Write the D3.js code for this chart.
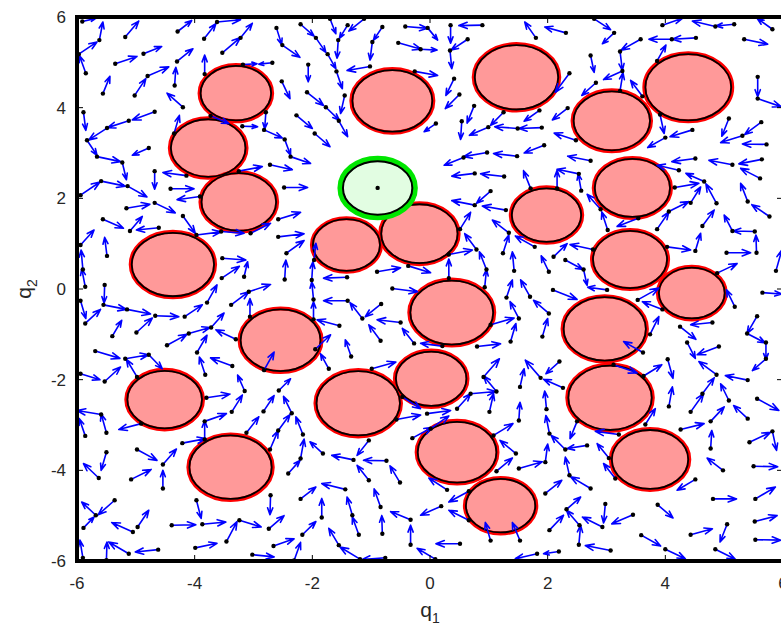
<!DOCTYPE html>
<html>
<head>
<meta charset="utf-8">
<script src="https://cdn.jsdelivr.net/npm/d3@7"></script>
<style>
  html, body { margin: 0; padding: 0; background: #ffffff; }
  svg { display: block; }
  text { font-family: "Liberation Sans", Arial, Helvetica, sans-serif; fill: #262626; }
</style>
</head>
<body>
<svg id="chart" width="781" height="632"></svg>
<script>
// Configuration space: circular obstacles, the goal region and a sampled vector field.
const xTicks = [-6, -4, -2, 0, 2, 4, 6];
const yTicks = [-6, -4, -2, 0, 2, 4, 6];

// Obstacle centres (q1, q2) and radii.
const obstacleQ1 = [-3.30, -0.64, 1.47, 4.39, -3.77, 3.09, -3.25, 3.44, 1.98, -0.18, -1.42, -4.37, 3.40,
                    4.45, 0.37, 2.97, -2.54, 0.02, -4.51, -1.22, 3.06, -3.39, 0.46, 3.74, 1.20];
const obstacleQ2 = [4.32, 4.15, 4.67, 4.45, 3.11, 3.71, 1.92, 2.23, 1.63, 1.22, 0.97, 0.54, 0.65,
                    -0.09, -0.52, -0.88, -1.13, -1.98, -2.44, -2.52, -2.40, -3.93, -3.60, -3.76, -4.78];
const obstacleR  = [0.60, 0.68, 0.71, 0.73, 0.635, 0.65, 0.635, 0.64, 0.59, 0.65, 0.57, 0.70, 0.63,
                    0.56, 0.705, 0.70, 0.68, 0.60, 0.635, 0.71, 0.71, 0.70, 0.67, 0.65, 0.59];

// Goal region.
const goalQ1 = -0.89;
const goalQ2 = 2.23;
const goalR = 0.59;

// Field samples: [q1, q2, dq1, dq2].
const samples = [
  [-5.91,5.90,0.23,0.07],[-5.62,5.49,0.06,0.40],[-5.18,5.56,0.23,0.35],[-5.97,5.18,0.31,0.27],
  [-5.85,4.76,-0.11,0.39],[-5.35,4.97,0.37,0.16],[-4.87,5.19,0.31,0.16],[-4.30,5.02,0.27,0.28],
  [-3.84,5.52,0.20,0.33],[-3.53,5.21,0.31,0.34],[-3.22,5.54,0.20,0.32],[-4.29,5.68,0.24,0.24],
  [-3.83,4.74,0.00,0.42],[-4.34,4.49,0.02,0.40],[-4.80,4.70,0.36,0.20],[-5.02,4.27,0.19,0.37],
  [-5.56,4.31,0.12,0.38],[-4.20,4.01,-0.27,0.31],[-4.68,3.91,-0.38,-0.18],[-5.12,3.71,-0.36,-0.15],
  [-5.49,3.55,-0.31,-0.26],[-5.89,3.90,0.04,-0.40],[-5.83,3.28,0.17,-0.33],[-4.35,3.43,0.09,0.40],
  [-3.73,3.82,0.31,-0.17],[-3.18,4.95,0.24,0.02],[-3.19,3.59,0.26,-0.01],[-4.78,3.11,-0.28,-0.16],
  [-3.62,5.89,0.40,0.05],
  [-2.61,5.76,0.09,-0.37],[-2.51,5.38,0.30,-0.27],[-2.20,5.84,0.23,-0.26],[-1.94,5.54,0.17,-0.32],
  [-1.74,5.18,0.14,-0.32],[-1.59,4.80,0.10,-0.38],[-1.70,5.96,0.10,-0.33],[-1.40,5.82,-0.14,-0.29],
  [-1.56,5.49,-0.02,-0.40],[-1.12,5.96,-0.26,-0.27],[-1.45,4.27,-0.07,-0.40],[-2.09,4.34,0.28,-0.29],
  [-1.77,4.01,0.23,-0.29],[-1.55,3.71,0.15,-0.35],[-2.27,3.83,0.27,-0.29],[-1.96,3.43,0.26,-0.29],
  [-2.07,4.95,0.00,-0.38],[-2.68,4.99,-0.23,-0.03],[-2.52,4.58,0.14,-0.38],[-2.79,3.90,-0.02,-0.37],
  [-2.82,3.51,0.31,-0.18],[-2.47,3.30,0.10,-0.35],[-1.02,4.91,-0.39,-0.09],[-0.81,5.78,-0.15,-0.29],
  [-0.98,5.45,-0.04,-0.40],[-0.42,5.79,0.38,-0.04],[-0.04,5.76,0.17,-0.27],[-0.54,5.43,0.39,-0.14],
  [-0.16,5.29,0.28,-0.02],[-0.26,4.80,0.39,-0.09],[0.10,3.65,-0.20,-0.18],
  [0.89,5.82,-0.40,-0.01],[0.35,5.82,0.00,-0.40],[0.64,5.51,-0.28,-0.24],[0.34,5.26,0.03,-0.40],
  [0.41,4.64,-0.14,-0.37],[0.50,4.29,-0.24,-0.31],[0.75,4.04,-0.12,-0.38],[0.54,3.70,-0.02,-0.40],
  [0.99,3.57,-0.32,-0.18],[1.25,3.90,-0.22,-0.29],[1.49,3.54,-0.39,0.04],[1.90,3.56,-0.39,-0.02],
  [1.80,5.54,-0.19,0.35],[2.31,5.65,-0.36,0.13],[2.37,4.76,-0.24,-0.42],[2.34,3.99,-0.26,-0.26],
  [1.86,3.94,-0.26,-0.24],[2.48,3.28,-0.37,0.16],[1.94,3.17,-0.34,-0.17],[2.73,5.15,0.06,-0.37],
  [2.82,4.55,-0.24,-0.28],[2.79,5.96,0.28,-0.24],
  [3.13,5.65,-0.20,-0.24],[3.58,5.51,-0.33,-0.24],[4.11,5.51,-0.39,0.00],[4.52,5.54,-0.40,-0.03],
  [3.23,5.24,0.04,-0.42],[3.27,4.81,-0.32,-0.19],[3.23,4.37,0.05,0.40],[3.61,4.25,-0.20,0.35],
  [3.86,5.03,0.15,0.35],[3.95,5.82,0.34,0.15],[4.85,5.79,-0.39,0.12],[5.17,5.84,-0.31,-0.04],
  [5.82,5.73,-0.26,0.24],[5.34,5.51,0.40,-0.11],[5.57,4.68,0.00,-0.44],[5.57,4.20,0.40,-0.18],
  [5.63,3.68,-0.28,-0.27],[5.31,3.38,-0.37,-0.15],[5.08,3.76,-0.12,-0.39],[5.72,3.19,-0.41,0.01],
  [4.46,3.51,-0.38,-0.15],[4.00,3.34,-0.30,-0.22],[3.91,3.85,0.07,-0.42],
  [-5.66,2.92,0.40,-0.11],[-5.23,2.79,0.07,-0.38],[-5.59,2.38,0.41,-0.11],[-5.94,2.07,0.33,0.29],
  [-5.14,2.27,0.33,-0.24],[-4.68,2.60,0.00,-0.40],[-4.14,2.50,-0.40,0.07],[-4.41,2.21,0.40,0.00],
  [-3.91,2.04,-0.39,-0.07],[-4.68,1.90,0.35,-0.22],[-5.16,1.78,0.40,0.09],[-5.56,1.54,0.35,-0.20],
  [-5.10,1.28,0.21,0.32],[-4.61,1.35,-0.38,-0.05],[-4.20,1.61,0.21,-0.38],[-3.97,1.19,0.42,0.07],
  [-3.55,1.27,0.39,-0.04],[-3.05,1.23,0.34,0.22],[-3.25,2.60,0.40,0.10],[-2.72,2.74,0.38,-0.11],
  [-2.37,2.92,0.34,-0.15],[-2.48,2.24,0.40,0.00],[-2.58,1.54,0.38,0.15],[-2.58,1.15,0.44,0.07],
  [-2.44,0.79,0.30,0.28],[-2.47,0.21,0.02,0.43],[-3.06,-0.61,0.00,0.40],[-3.38,-0.35,0.30,0.29],
  [-3.08,-0.06,0.37,0.16],[-3.54,0.24,0.30,0.26],[-3.16,0.27,0.06,0.33],[-3.53,0.68,0.40,-0.04],
  [-3.79,-0.30,0.17,0.39],[-4.17,-0.61,0.30,0.26],[-4.67,-0.59,0.40,-0.02],[-5.15,-0.45,0.40,-0.10],
  [-5.55,-0.35,0.39,-0.10],[-5.53,0.09,-0.01,-0.40],[-5.86,0.05,-0.06,0.40],[-5.90,0.43,-0.03,0.43],
  [-5.94,0.97,0.23,0.33],[-5.49,0.73,-0.04,0.41],[-5.94,-0.26,0.09,-0.39],[-5.86,-0.76,0.26,0.31],
  [-5.40,-1.04,0.16,0.35],[-4.99,-0.96,0.27,0.32],[-4.47,-1.24,0.34,0.24],[-4.10,-0.98,0.36,0.13],
  [-3.72,-0.85,0.22,0.32],[-3.30,-1.11,-0.34,0.21],[-3.96,-1.40,0.17,0.38],[-5.69,-1.37,0.42,-0.16],
  [0.57,2.90,-0.33,-0.17],[0.97,3.01,-0.40,-0.09],[1.48,2.93,-0.40,0.06],[0.76,2.55,-0.39,-0.06],
  [1.26,2.48,-0.40,0.06],[1.71,2.22,-0.12,0.39],[1.03,2.16,-0.24,-0.27],[0.76,1.85,-0.39,0.10],
  [1.29,1.74,-0.40,0.09],[0.51,1.32,0.18,0.37],[1.34,1.24,-0.28,0.28],[1.24,0.79,0.10,0.40],
  [0.79,0.87,-0.20,0.35],[0.32,0.76,0.40,0.10],[0.96,0.43,-0.12,0.39],[0.32,0.24,0.00,0.42],
  [0.93,0.04,0.03,0.39],[1.43,0.40,-0.03,0.42],[1.30,-0.19,0.10,0.39],[1.70,-0.17,-0.16,0.37],
  [1.78,0.93,-0.33,0.24],[1.51,-0.65,-0.15,0.37],[1.03,-0.79,0.40,0.15],[1.37,-1.16,0.09,0.40],
  [1.91,-1.05,0.09,0.40],[0.80,-1.27,0.40,0.06],[0.21,-1.26,-0.37,0.06],[-0.27,-1.20,-0.20,0.33],
  [-0.50,-0.74,-0.40,0.06],[-0.84,-1.14,-0.20,0.35],[-1.34,-1.49,-0.10,0.37],[-0.83,-0.33,-0.27,-0.28],
  [-1.15,-0.65,-0.21,0.35],[-1.40,-0.26,-0.41,0.00],[-1.54,-0.81,-0.38,0.13],[-1.98,-0.67,0.00,0.39],
  [-1.98,-0.23,-0.03,0.39],[-2.01,0.20,0.02,0.40],[-1.97,0.64,0.03,0.37],[-1.41,0.26,-0.40,-0.02],
  [-0.90,0.38,0.40,0.09],[-0.37,0.51,0.38,-0.15],[-0.64,0.01,0.43,-0.07],[-1.95,-1.33,0.26,0.32],
  [2.73,2.83,-0.39,0.10],[2.16,2.22,0.00,0.40],[2.53,2.54,-0.37,0.10],[2.57,2.17,-0.05,0.37],
  [2.90,1.76,-0.23,0.33],[3.02,1.30,-0.10,0.40],[3.54,1.56,-0.36,-0.18],[4.23,2.62,-0.37,0.11],
  [4.66,2.37,-0.31,0.18],[4.16,2.24,0.41,0.09],[4.51,2.88,-0.40,-0.07],[5.14,2.74,-0.40,0.10],
  [5.64,2.86,-0.39,-0.10],[5.61,2.44,-0.33,0.22],[4.87,1.89,-0.18,0.43],[4.43,1.90,0.17,0.35],
  [4.06,1.71,0.34,0.22],[3.86,1.32,0.20,0.38],[4.63,1.39,0.20,0.35],[4.51,0.84,0.09,0.39],
  [5.14,1.28,-0.14,0.35],[5.40,1.93,-0.12,0.40],[5.77,1.60,-0.30,0.26],[5.52,1.27,-0.37,0.01],
  [5.55,0.80,-0.01,0.39],[5.04,0.80,0.41,0.00],[5.88,0.40,0.10,0.46],[5.65,-0.08,0.33,-0.03],
  [5.56,-0.60,-0.17,-0.38],[5.39,-0.98,0.31,-0.21],[5.71,-1.18,0.00,-0.38],[4.03,0.93,0.40,-0.07],
  [4.88,0.35,0.34,0.21],[5.18,-0.39,-0.14,0.37],[3.53,-0.24,0.36,0.26],[3.95,-0.45,-0.34,0.17],
  [3.01,-0.02,-0.33,0.06],[2.61,0.43,0.06,-0.35],[2.30,0.64,0.30,-0.21],[2.10,0.71,0.23,0.29],
  [2.77,0.87,-0.39,0.11],[2.02,0.38,-0.13,0.35],[2.09,-0.02,0.41,-0.21],[2.02,-0.54,-0.26,0.29],
  [3.62,-1.40,-0.33,0.24],[3.74,-1.00,0.15,0.39],[4.80,-0.74,-0.37,-0.05],[4.91,-1.27,-0.37,-0.18],
  [4.37,-1.18,0.14,-0.35],[4.25,-0.83,0.27,-0.28],
  [-5.18,-1.54,0.40,0.09],[-4.98,-1.94,-0.18,0.39],[-4.78,-1.45,0.23,-0.31],[-5.53,-2.04,0.27,0.32],
  [-5.94,-1.87,0.33,-0.13],[-3.82,-1.89,-0.10,0.39],[-3.36,-1.70,-0.37,0.18],[-3.15,-2.25,-0.12,0.35],
  [-3.80,-2.40,0.40,0.08],[-3.37,-2.71,0.18,0.37],[-3.83,-2.92,0.37,0.17],[-3.83,-3.32,0.00,0.42],
  [-4.21,-3.40,0.40,0.10],[-2.82,-1.79,0.17,0.40],[-2.57,-2.24,0.20,0.26],[-2.35,-2.74,-0.14,0.37],
  [-2.83,-2.70,0.18,0.35],[-3.12,-3.17,0.21,0.35],[-2.16,-3.21,-0.12,0.39],[-2.58,-3.12,0.20,0.35],
  [-2.72,-3.54,0.14,0.42],[-2.20,-3.74,0.06,0.43],[-2.41,-4.07,0.20,0.29],[-2.20,-4.63,0.26,0.26],
  [-2.71,-4.55,-0.01,-0.43],[-5.59,-2.77,-0.41,0.09],[-5.50,-3.17,-0.09,0.42],[-5.86,-3.24,-0.10,0.38],
  [-4.91,-2.97,-0.38,-0.13],[-5.50,-3.60,-0.09,-0.40],[-5.63,-4.17,-0.26,0.32],[-4.98,-3.54,0.34,-0.24],
  [-4.54,-3.87,0.23,0.34],[-4.54,-4.40,0.00,0.40],[-5.08,-4.20,0.34,0.22],[-5.68,-4.99,-0.24,0.29],
  [-5.36,-4.66,-0.28,-0.32],[-5.05,-5.36,-0.36,0.21],[-4.97,-5.25,0.19,0.37],[-4.39,-5.21,0.41,0.01],
  [-3.87,-5.19,0.40,0.05],[-3.97,-4.66,0.08,-0.40],[-3.99,-5.71,0.37,0.10],[-3.46,-5.57,0.18,0.44],
  [-3.24,-5.10,0.37,-0.15],[-2.74,-5.29,0.26,0.29],[-2.66,-5.67,0.35,0.16],[-2.17,-5.42,0.23,0.29],
  [-3.02,-5.86,0.37,-0.05],[-5.12,-5.84,-0.34,0.26],[-4.62,-5.75,-0.39,-0.05],[-5.90,-5.93,-0.05,0.39],
  [-5.50,-5.98,0.01,0.40],[-2.31,-5.99,0.11,0.40],[-5.89,-5.27,0.18,0.24],
  [-1.72,-1.76,-0.14,0.33],[-0.99,-1.76,0.41,0.15],[-0.47,-2.38,0.31,-0.26],[-0.05,-2.75,0.40,0.07],
  [-0.57,-2.88,0.41,0.10],[-0.30,-3.29,0.34,0.24],[0.01,-3.08,0.31,0.28],[0.46,-2.64,0.23,0.33],
  [0.69,-2.31,0.43,0.05],[1.13,-2.26,-0.22,0.34],[0.91,-1.94,0.27,0.40],[1.01,-2.71,0.07,0.40],
  [1.53,-2.16,0.07,0.40],[1.51,-2.90,0.02,0.40],[1.88,-1.96,-0.26,0.39],[1.08,-3.23,0.33,0.26],
  [1.46,-3.63,-0.27,0.29],[1.51,-3.96,0.40,0.15],[1.13,-4.02,0.27,0.29],[-1.04,-3.34,-0.20,-0.33],
  [-1.82,-3.63,-0.22,0.26],[-1.30,-3.77,-0.37,0.10],[-0.74,-3.79,-0.39,0.01],[-1.04,-4.22,-0.20,0.33],
  [-0.51,-4.27,-0.17,0.37],[-1.44,-4.42,-0.40,0.13],[-1.84,-5.04,0.00,0.42],[-1.32,-4.99,-0.09,0.40],
  [-1.21,-5.42,-0.11,0.39],[-0.84,-4.81,-0.11,0.40],[-0.81,-5.40,-0.01,0.40],[-0.33,-5.09,-0.34,0.18],
  [-0.33,-5.64,0.00,0.43],[0.19,-4.79,-0.35,-0.20],[0.29,-4.43,-0.31,0.26],[0.66,-5.10,-0.34,0.22],
  [0.66,-4.46,-0.34,-0.24],[1.03,-5.55,-0.09,0.40],[1.53,-5.55,-0.13,0.40],[0.51,-5.62,-0.41,0.00],
  [0.09,-5.96,-0.31,0.24],[-1.55,-5.65,-0.17,0.37],[-1.19,-5.96,-0.34,0.27],[-0.76,-5.93,-0.40,-0.04],
  [1.82,-5.84,-0.37,-0.11],
  [2.20,-1.60,-0.23,-0.27],[2.26,-2.18,-0.33,0.19],[1.98,-2.65,-0.03,0.40],[2.03,-3.19,-0.06,0.40],
  [1.96,-3.82,0.04,0.40],[2.30,-3.54,-0.24,0.31],[2.67,-3.45,-0.34,-0.07],[2.50,-2.92,-0.12,-0.38],
  [3.21,-3.21,-0.40,0.07],[3.04,-3.73,-0.20,0.32],[3.15,-4.18,-0.20,0.33],[2.37,-4.11,-0.07,0.40],
  [2.73,-4.40,-0.34,0.26],[1.96,-4.51,0.28,0.29],[2.03,-5.32,0.24,0.33],[2.32,-4.86,0.24,0.27],
  [2.54,-5.21,-0.22,0.33],[2.93,-5.25,-0.34,0.22],[2.98,-4.74,-0.03,-0.42],[3.45,-4.98,-0.36,-0.20],
  [2.53,-5.64,0.03,0.43],[3.07,-5.77,-0.43,0.11],[2.19,-5.79,-0.26,-0.05],[3.12,-1.67,0.40,-0.18],
  [3.63,-1.92,0.31,0.25],[4.04,-1.55,0.09,-0.42],[4.06,-2.59,0.06,0.43],[3.66,-2.99,0.17,0.35],
  [4.87,-1.89,-0.30,0.29],[5.40,-2.01,-0.38,0.10],[5.56,-2.42,0.37,-0.26],[5.71,-1.54,-0.23,-0.26],
  [4.43,-2.71,0.22,0.40],[4.63,-2.31,0.20,0.35],[5.08,-2.46,-0.14,0.37],[4.77,-2.92,0.23,0.32],
  [5.40,-2.86,-0.24,0.29],[5.82,-3.14,0.07,-0.42],[4.26,-3.10,0.40,0.13],[4.77,-3.52,0.02,0.40],
  [5.43,-3.38,0.36,0.22],[4.98,-4.00,-0.27,0.27],[4.51,-4.20,-0.31,-0.24],[5.50,-3.91,0.41,-0.01],
  [4.81,-4.63,0.40,0.00],[5.53,-4.63,0.34,0.26],[3.87,-4.76,0.26,-0.29],[5.52,-5.13,0.38,0.13],
  [5.05,-5.19,-0.12,-0.39],[4.43,-5.42,0.37,0.13],[5.53,-5.53,0.43,-0.01],[3.59,-5.43,0.33,-0.24],
  [4.00,-5.74,0.34,-0.21],[4.85,-5.74,0.34,-0.22]
];

const W = 781, H = 632;
const svg = d3.select("#chart");

const x = d3.scaleLinear().domain([-6, 6]).range([77, 783]);
const y = d3.scaleLinear().domain([-6, 6]).range([561, 17]);

const clipId = "plotClip";
svg.append("defs").append("clipPath").attr("id", clipId)
  .append("rect").attr("x", x(-6)).attr("y", y(6)).attr("width", x(6) - x(-6)).attr("height", y(-6) - y(6));

const plot = svg.append("g").attr("clip-path", `url(#${clipId})`);

// Obstacles: pink disc with a red rim and a black outline.
const obstacles = d3.range(obstacleQ1.length).map(i => ({ q1: obstacleQ1[i], q2: obstacleQ2[i], r: obstacleR[i] }));
const rx = r => x(r) - x(0);
const ry = r => y(0) - y(r);

const obsG = plot.append("g");
obsG.selectAll("ellipse.rim").data(obstacles).join("ellipse")
  .attr("class", "rim")
  .attr("cx", d => x(d.q1)).attr("cy", d => y(d.q2))
  .attr("rx", d => rx(d.r) + 1).attr("ry", d => ry(d.r) + 1)
  .attr("fill", "#ff9999").attr("stroke", "#ff0000").attr("stroke-width", 4);
obsG.selectAll("ellipse.edge").data(obstacles).join("ellipse")
  .attr("class", "edge")
  .attr("cx", d => x(d.q1)).attr("cy", d => y(d.q2))
  .attr("rx", d => rx(d.r)).attr("ry", d => ry(d.r))
  .attr("fill", "none").attr("stroke", "#000000").attr("stroke-width", 1.8);

// Goal region: light green disc with a green rim.
const goalG = plot.append("g");
goalG.append("ellipse")
  .attr("cx", x(goalQ1)).attr("cy", y(goalQ2))
  .attr("rx", rx(goalR) + 2.5).attr("ry", ry(goalR) + 2.5)
  .attr("fill", "#e2fde2").attr("stroke", "#00e600").attr("stroke-width", 6);
goalG.append("ellipse")
  .attr("cx", x(goalQ1)).attr("cy", y(goalQ2))
  .attr("rx", rx(goalR)).attr("ry", ry(goalR))
  .attr("fill", "none").attr("stroke", "#000000").attr("stroke-width", 2);
goalG.append("circle")
  .attr("cx", x(goalQ1)).attr("cy", y(goalQ2)).attr("r", 2.2).attr("fill", "#000");

// Vector field arrows.
const arrowG = plot.append("g").attr("stroke", "#0000ff").attr("stroke-width", 1.6)
  .attr("stroke-linecap", "round").attr("stroke-linejoin", "round").attr("fill", "none");
const headAngle = 0.36;
samples.forEach(([q1, q2, u, v]) => {
  const x0 = x(q1), y0 = y(q2), x1 = x(q1 + u), y1 = y(q2 + v);
  const len = Math.hypot(x1 - x0, y1 - y0);
  const a = Math.atan2(y1 - y0, x1 - x0);
  const h = Math.min(0.38 * len, 9);
  const p = d3.path();
  p.moveTo(x0, y0); p.lineTo(x1, y1);
  p.moveTo(x1 - h * Math.cos(a - headAngle), y1 - h * Math.sin(a - headAngle));
  p.lineTo(x1, y1);
  p.lineTo(x1 - h * Math.cos(a + headAngle), y1 - h * Math.sin(a + headAngle));
  arrowG.append("path").attr("d", p.toString());
});
plot.append("g").selectAll("circle").data(samples).join("circle")
  .attr("cx", d => x(d[0])).attr("cy", d => y(d[1])).attr("r", 2.2).attr("fill", "#000");

// Axes box with inward ticks.
const tickLen = 6;
const axisG = svg.append("g").attr("stroke", "#000");
xTicks.forEach(t => {
  axisG.append("line").attr("x1", x(t)).attr("x2", x(t)).attr("y1", y(-6)).attr("y2", y(-6) - tickLen).attr("stroke-width", 1);
  axisG.append("line").attr("x1", x(t)).attr("x2", x(t)).attr("y1", y(6)).attr("y2", y(6) + tickLen).attr("stroke-width", 1);
});
yTicks.forEach(t => {
  axisG.append("line").attr("x1", x(-6)).attr("x2", x(-6) + tickLen).attr("y1", y(t)).attr("y2", y(t)).attr("stroke-width", 1);
  axisG.append("line").attr("x1", x(6)).attr("x2", x(6) - tickLen).attr("y1", y(t)).attr("y2", y(t)).attr("stroke-width", 1);
});
axisG.append("rect")
  .attr("x", x(-6)).attr("y", y(6)).attr("width", x(6) - x(-6)).attr("height", y(-6) - y(6))
  .attr("fill", "none").attr("stroke-width", 4);

// Tick labels.
svg.append("g").selectAll("text").data(xTicks).join("text")
  .attr("x", d => x(d)).attr("y", 589)
  .attr("text-anchor", "middle").attr("font-size", 17)
  .text(d => d);
svg.append("g").selectAll("text").data(yTicks).join("text")
  .attr("x", 66).attr("y", d => y(d) + 6)
  .attr("text-anchor", "end").attr("font-size", 17)
  .text(d => d);

// Axis titles.
const xt = svg.append("text").attr("x", x(0)).attr("y", 617).attr("text-anchor", "middle").attr("font-size", 21);
xt.append("tspan").text("q");
xt.append("tspan").attr("font-size", 14).attr("dy", 6).text("1");

const yt = svg.append("text").attr("transform", `translate(31,${y(0)}) rotate(-90)`).attr("text-anchor", "middle").attr("font-size", 21);
yt.append("tspan").text("q");
yt.append("tspan").attr("font-size", 14).attr("dy", 6).text("2");
</script>
</body>
</html>
